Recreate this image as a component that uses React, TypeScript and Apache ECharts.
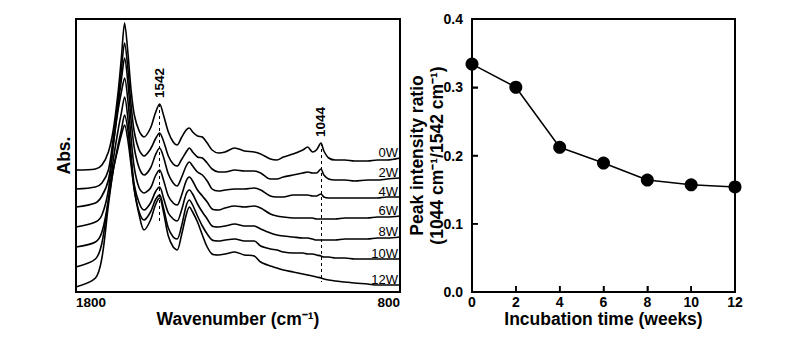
import React, { useEffect, useRef } from "react";
import * as echarts from "echarts";

// ---- Left panel: FTIR spectra (absorbance, arbitrary units, stacked) ----
const wavenumbers = [
  1800, 1740, 1720, 1700, 1685, 1670, 1660, 1650, 1640, 1630, 1620, 1605, 1590,
  1570, 1555, 1542, 1530, 1515, 1500, 1488, 1475, 1460, 1450, 1440, 1425, 1410,
  1395, 1380, 1360, 1340, 1310, 1280, 1250, 1230, 1200, 1180, 1160, 1130, 1100,
  1085, 1070, 1058, 1044, 1035, 1020, 1000, 970, 940, 900, 870, 840, 800,
];

const spectrumNames = ["0W", "2W", "4W", "6W", "8W", "10W", "12W"];

const abs0W = [
  122, 123, 127, 140, 162, 200, 234, 269, 240, 202, 177, 161, 155, 164, 179, 188,
  177, 160, 150, 147, 154, 162, 164, 160, 156, 155, 149, 142, 139, 140, 144, 141,
  140, 138, 133, 132, 135, 138, 142, 145, 140, 142, 149, 141, 134, 132, 132, 131,
  131, 132, 132, 134,
];
const abs2W = [
  103, 105, 109, 122, 154, 192, 222, 249, 224, 187, 160, 142, 136, 143, 153, 159,
  151, 136, 128, 126, 132, 140, 144, 140, 135, 134, 129, 123, 120, 120, 122, 121,
  121, 119, 113, 113, 115, 117, 119, 120, 119, 119, 123, 117, 113, 112, 112, 111,
  112, 112, 113, 114,
];
const abs4W = [
  85, 89, 96, 112, 147, 187, 212, 234, 210, 172, 144, 124, 117, 124, 137, 144,
  135, 118, 109, 106, 114, 126, 130, 126, 120, 117, 111, 103, 101, 102, 103, 103,
  104, 102, 96, 95, 95, 97, 97, 97, 96, 96, 98, 95, 94, 94, 94, 94,
  94, 94, 95, 95,
];
const abs6W = [
  65, 70, 77, 102, 147, 182, 200, 214, 192, 154, 124, 104, 99, 104, 116, 122,
  112, 96, 89, 87, 96, 111, 115, 111, 102, 96, 90, 83, 82, 84, 86, 85,
  86, 84, 78, 76, 75, 74, 74, 74, 74, 73, 73, 73, 73, 73, 74, 74,
  74, 75, 75, 76,
];
const abs8W = [
  45, 50, 60, 92, 132, 162, 179, 195, 174, 137, 107, 89, 82, 89, 100, 105,
  94, 79, 73, 71, 81, 98, 102, 98, 88, 80, 73, 66, 65, 66, 68, 66,
  66, 63, 59, 57, 56, 55, 54, 54, 53, 52, 52, 52, 52, 52, 53, 53,
  53, 54, 54, 55,
];
const abs10W = [
  25, 33, 49, 92, 122, 147, 162, 177, 162, 132, 102, 80, 72, 80, 92, 97,
  84, 64, 55, 53, 65, 86, 92, 87, 76, 66, 58, 52, 51, 52, 53, 51,
  51, 46, 43, 42, 40, 39, 39, 38, 38, 37, 36, 35, 35, 34, 34, 33,
  33, 33, 33, 33,
];
const abs12W = [
  5, 14, 34, 87, 122, 144, 157, 167, 152, 127, 102, 77, 62, 72, 87, 94,
  80, 56, 45, 42, 56, 77, 85, 80, 70, 57, 45, 38, 37, 38, 40, 37,
  36, 30, 26, 24, 22, 20, 18, 17, 16, 15, 14, 13, 12, 11, 10, 9,
  8, 7, 7, 7,
];

// peak markers: wavenumber and lower end of the dashed guide (abs units)
const peakMarks = [1542, 1044];
const peakGuideBottom = [69, 10];

// ---- Right panel: peak intensity ratio vs incubation time ----
const weeks = [0, 2, 4, 6, 8, 10, 12];
const ratio = [0.334, 0.3, 0.212, 0.189, 0.164, 0.157, 0.154];
const ratioTicks = [0.1, 0.2, 0.3];
const weekTicks = [2, 4, 6, 8, 10];

const FONT = "'Liberation Sans', Arial, Helvetica, sans-serif";

// axis extents
const WN_MIN = 800;
const WN_MAX = 1800;
const ABS_MAX = 273;
const WEEK_MAX = 12;
const RATIO_MAX = 0.4;

export default function App() {
  const ref = useRef<HTMLDivElement>(null);

  useEffect(() => {
    document.body.style.margin = "0";
    const chart = echarts.init(ref.current!, null, { renderer: "svg" });
    const spectra = [abs0W, abs2W, abs4W, abs6W, abs8W, abs10W, abs12W];

    const boldName = {
      fontFamily: FONT,
      fontWeight: "bold",
      fontSize: 17.5,
      color: "#000",
    };

    const spectraSeries = spectra.map((arr, i) => ({
      type: "line",
      name: spectrumNames[i],
      xAxisIndex: 0,
      yAxisIndex: 0,
      data: wavenumbers.map((w, j) => [w, arr[j]]),
      symbol: "none",
      showSymbol: false,
      smooth: 0.3,
      silent: true,
      clip: false,
      z: 3,
      lineStyle: { color: "#000", width: 1.6 },
      markLine:
        i === 0
          ? {
              silent: true,
              symbol: ["none", "none"],
              label: { show: false },
              emphasis: { disabled: true },
              lineStyle: { color: "#000", width: 1, type: [3, 3] },
              data: peakMarks.map((wn, k) => [
                { coord: [wn, abs0W[wavenumbers.indexOf(wn)]] },
                { coord: [wn, peakGuideBottom[k]] },
              ]),
            }
          : undefined,
    }));

    chart.setOption({
      animation: false,
      grid: [
        { left: 76, top: 19, width: 324, height: 273 },
        { left: 472, top: 19, width: 263, height: 273 },
      ],
      xAxis: [
        {
          gridIndex: 0,
          type: "value",
          min: WN_MIN,
          max: WN_MAX,
          interval: 1000,
          inverse: true,
          axisLine: { show: true, onZero: false, lineStyle: { color: "#000", width: 2 } },
          axisTick: { show: false },
          splitLine: { show: false },
          axisLabel: {
            color: "#000",
            fontFamily: FONT,
            fontWeight: "bold",
            fontSize: 13.5,
            margin: 3,
            alignMinLabel: "right",
            alignMaxLabel: "left",
            formatter: (v: number) => String(v),
          },
          name: "Wavenumber (cm\u207B\u00B9)",
          nameLocation: "middle",
          nameGap: 17,
          nameMoveOverlap: false,
          nameTextStyle: { ...boldName, lineHeight: 20 },
        },
        {
          gridIndex: 1,
          type: "value",
          min: 0,
          max: WEEK_MAX,
          interval: 2,
          axisLine: { show: true, onZero: false, lineStyle: { color: "#000", width: 2 } },
          axisTick: { show: true, inside: true, length: 6, lineStyle: { color: "#000", width: 1.5 } },
          splitLine: { show: false },
          axisLabel: {
            color: "#000",
            fontFamily: FONT,
            fontWeight: "bold",
            fontSize: 14,
            margin: 3,
          },
          name: "Incubation time (weeks)",
          nameLocation: "middle",
          nameGap: 17,
          nameMoveOverlap: false,
          nameTextStyle: { ...boldName, lineHeight: 20 },
        },
      ],
      yAxis: [
        {
          gridIndex: 0,
          type: "value",
          min: 0,
          max: ABS_MAX,
          axisLine: { show: true, onZero: false, lineStyle: { color: "#000", width: 2 } },
          axisTick: { show: false },
          axisLabel: { show: false },
          splitLine: { show: false },
          name: "Abs.",
          nameLocation: "middle",
          nameRotate: 90,
          nameGap: 3,
          nameMoveOverlap: false,
          nameTextStyle: { ...boldName, lineHeight: 18 },
        },
        {
          gridIndex: 1,
          type: "value",
          min: 0,
          max: RATIO_MAX,
          interval: 0.1,
          axisLine: { show: true, onZero: false, lineStyle: { color: "#000", width: 2 } },
          axisTick: { show: true, inside: true, length: 6, lineStyle: { color: "#000", width: 1.5 } },
          splitLine: { show: false },
          axisLabel: {
            color: "#000",
            fontFamily: FONT,
            fontWeight: "bold",
            fontSize: 14,
            margin: 9,
            formatter: (v: number) => v.toFixed(1),
          },
          name: "Peak intensity ratio\n(1044 cm\u207B\u00B9/1542 cm\u207B\u00B9)",
          nameLocation: "middle",
          nameRotate: 90,
          nameGap: 25,
          nameMoveOverlap: false,
          nameTextStyle: { ...boldName, lineHeight: 20 },
        },
      ],
      series: [
        ...spectraSeries,
        {
          type: "line",
          xAxisIndex: 1,
          yAxisIndex: 1,
          data: weeks.map((w, i) => [w, ratio[i]]),
          symbol: "circle",
          symbolSize: 13,
          clip: false,
          silent: true,
          z: 5,
          itemStyle: { color: "#000" },
          lineStyle: { color: "#000", width: 1.5 },
        },
      ],
    });

    const toPx = (axes: number, v: number[]) =>
      chart.convertToPixel({ xAxisIndex: axes, yAxisIndex: axes }, v) as number[];

    const graphics: any[] = [];
    const bar = (x: number, y: number, w: number, h: number) =>
      graphics.push({
        type: "rect",
        silent: true,
        z: 8,
        shape: { x, y, width: w, height: h },
        style: { fill: "#000", stroke: null, lineWidth: 0 },
      });

    // frames as filled bars along each grid's axis extents
    const frames: [number, number[], number[]][] = [
      [0, [WN_MAX, ABS_MAX], [WN_MIN, 0]],
      [1, [0, RATIO_MAX], [WEEK_MAX, 0]],
    ];
    frames.forEach(([ax, tl, br]) => {
      const a = toPx(ax, tl);
      const b = toPx(ax, br);
      const t = 2;
      bar(a[0] - t / 2, a[1] - t / 2, b[0] - a[0] + t, t); // top
      bar(a[0] - t / 2, b[1] - t / 2, b[0] - a[0] + t, t); // bottom
      bar(a[0] - t / 2, a[1] - t / 2, t, b[1] - a[1] + t); // left
      bar(b[0] - t / 2, a[1] - t / 2, t, b[1] - a[1] + t); // right
    });

    // inward ticks on the right panel
    weekTicks.forEach((w) => {
      const p = toPx(1, [w, 0]);
      bar(p[0] - 0.75, p[1] - 6, 1.5, 6);
    });
    ratioTicks.forEach((r) => {
      const p = toPx(1, [0, r]);
      bar(p[0], p[1] - 0.75, 6, 1.5);
    });

    // peak annotations
    peakMarks.forEach((wn) => {
      const top = abs0W[wavenumbers.indexOf(wn)];
      const [px, py] = toPx(0, [wn, top]);
      graphics.push({
        type: "text",
        x: px,
        y: py - 6,
        rotation: Math.PI / 2,
        silent: true,
        z: 10,
        style: {
          text: String(wn),
          font: `bold 13.5px ${FONT}`,
          fill: "#000",
          align: "left",
          verticalAlign: "middle",
        },
      });
    });

    // spectrum labels at the right end of each curve
    spectra.forEach((arr, i) => {
      const last = arr.length - 1;
      const [px, py] = toPx(0, [wavenumbers[last], arr[last]]);
      graphics.push({
        type: "text",
        x: px - 2,
        y: py - 6,
        silent: true,
        z: 10,
        style: {
          text: spectrumNames[i],
          font: `13px ${FONT}`,
          fill: "#000",
          align: "right",
          verticalAlign: "middle",
        },
      });
    });
    chart.setOption({ graphic: graphics });

    return () => chart.dispose();
  }, []);

  return <div ref={ref} style={{ width: 788, height: 344 }} />;
}
